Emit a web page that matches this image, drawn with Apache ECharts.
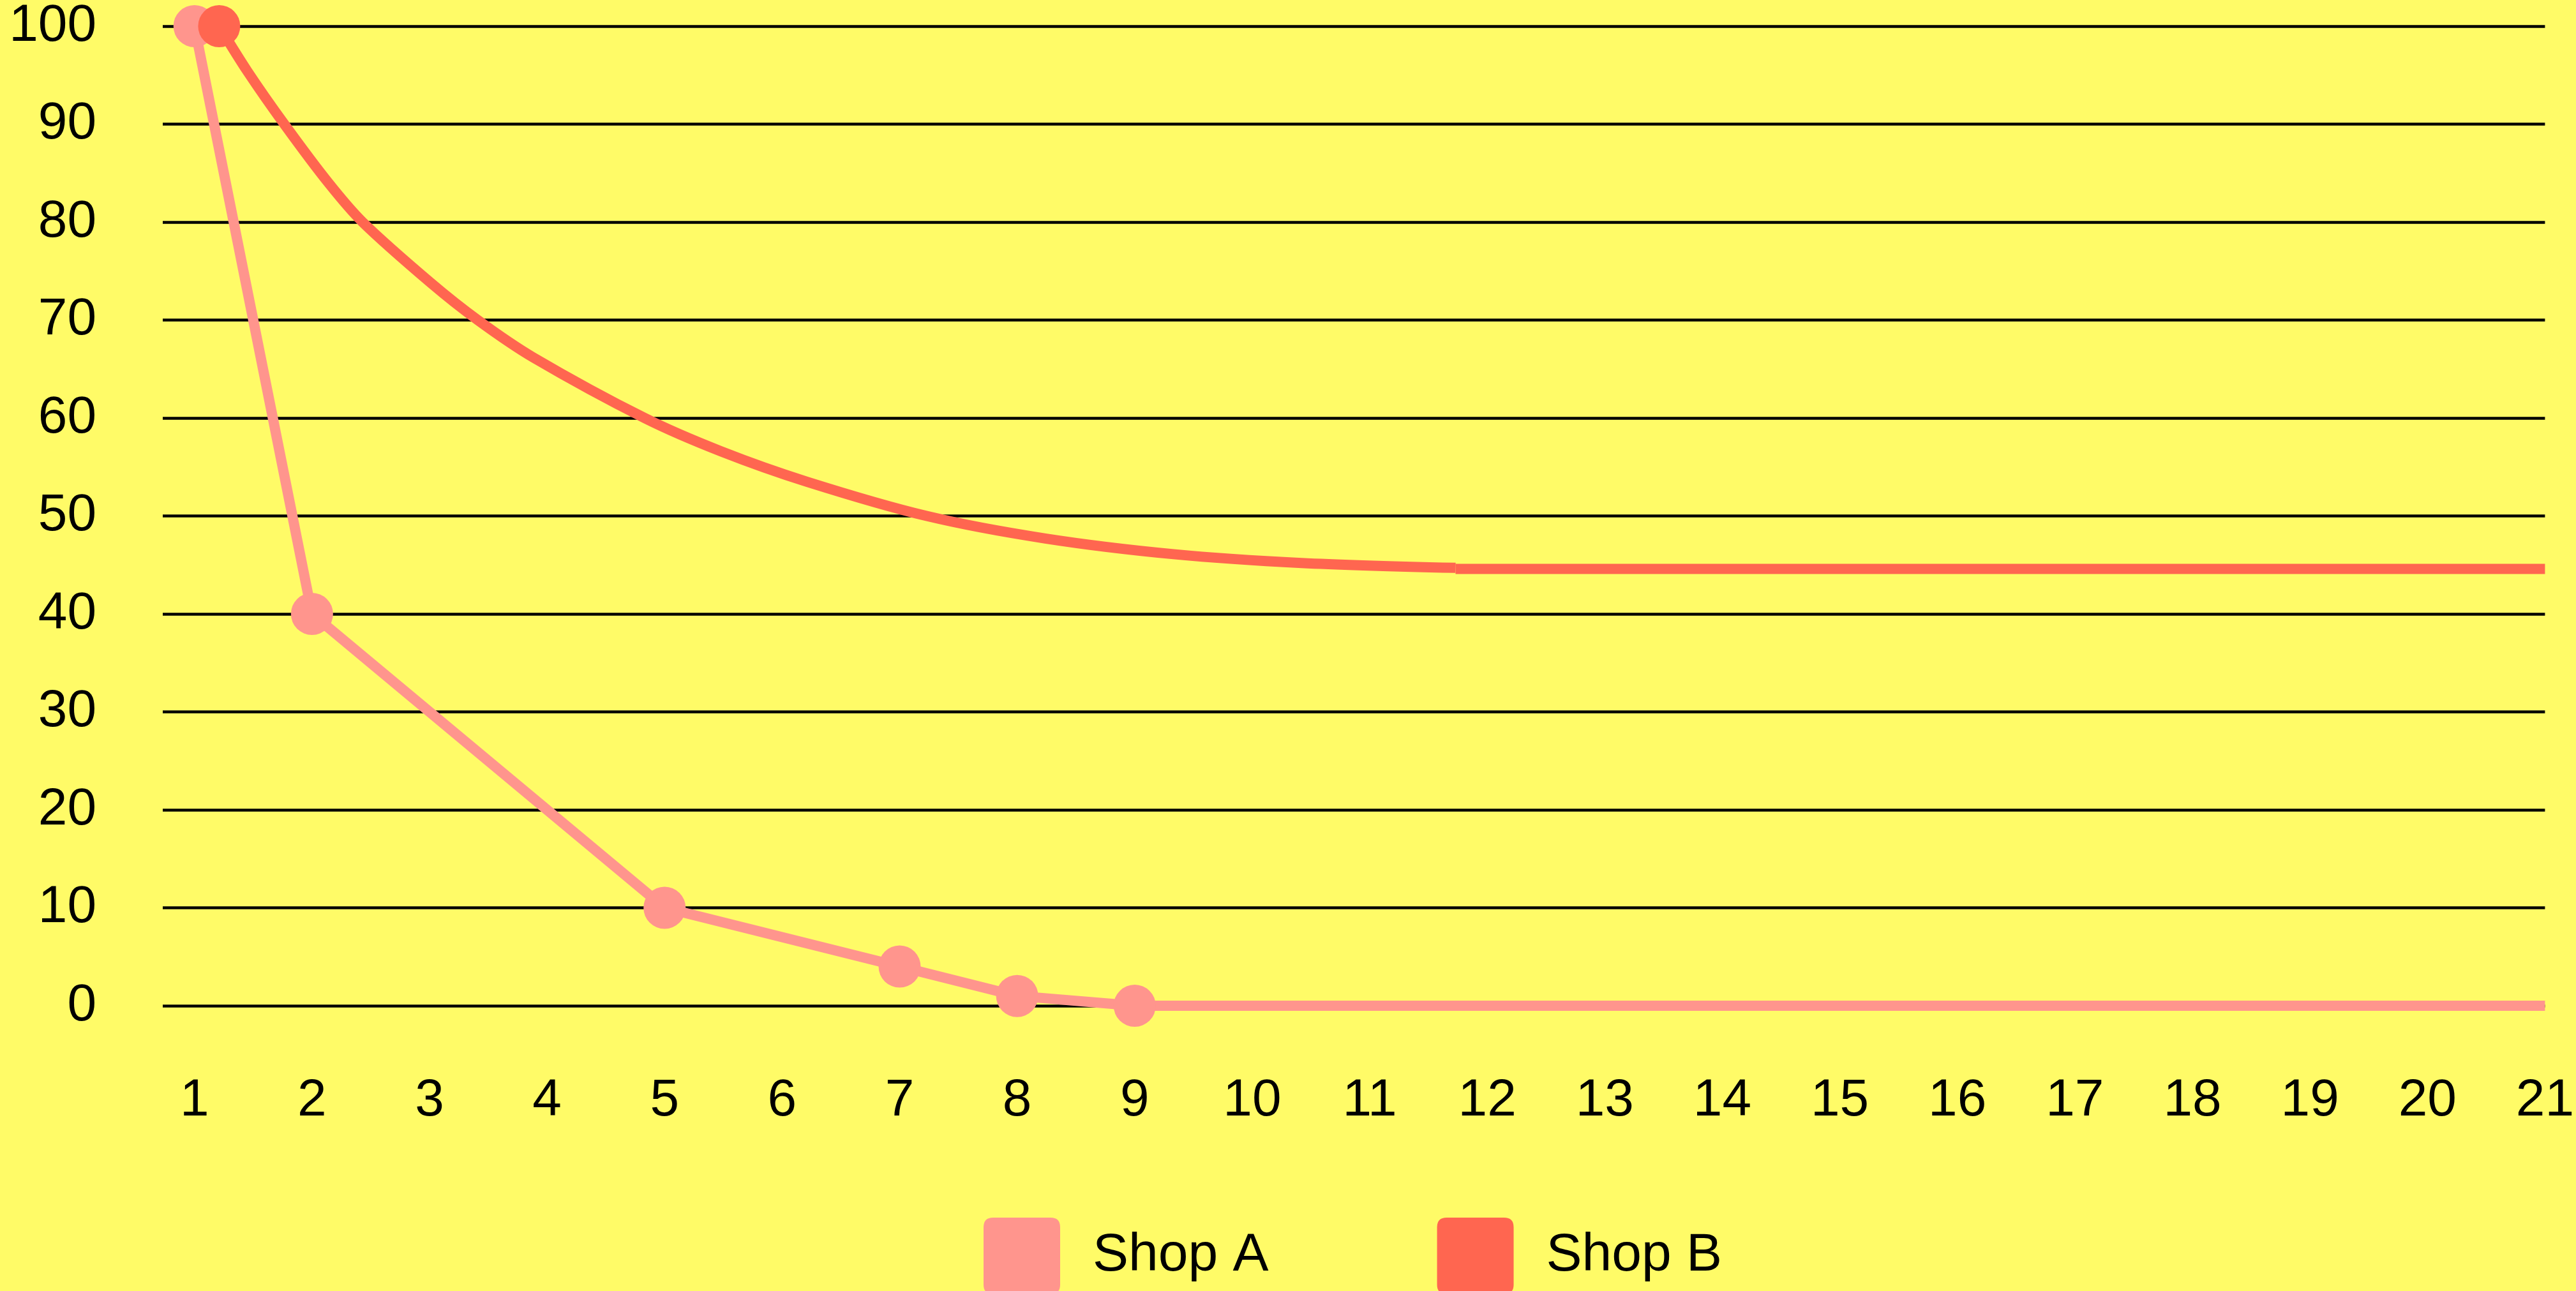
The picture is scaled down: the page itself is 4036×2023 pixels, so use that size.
<!DOCTYPE html>
<html>
<head>
<meta charset="utf-8">
<script src="https://cdn.jsdelivr.net/npm/echarts@6/dist/echarts.min.js"></script>
<style>
    html, body { margin:0; padding:0; background:#fffb67; }
    #main { width:4036px; height:2023px; }
</style>
</head>
<body>
<div id="main"></div>
<script>

// ==============================
// Data
// ==============================

const xTicks = [1,2,3,4,5,6,7,8,9,10,11,12,13,14,15,16,17,18,19,20,21];

const yTicks = [0,10,20,30,40,50,60,70,80,90,100];

// Shop A: [x, value]
const shopA = [
    [1,100],[2,40],[5,10],[7,4],[8,1],[9,0],[21,0]
];

// Shop B curve part (only first point has a marker)
const shopBCurve = [
    [1.21,100],[1.45,95.4],[1.77,89.9],[2.14,84],[2.43,80],
    [3.01,73.8],[3.41,70],[3.88,66.2],[4.83,60],[5.48,56.6],
    [6.21,53.5],[7.23,50],[8.24,47.7],[9.33,46.1],[10.42,45.2],
    [11.73,44.7]
];

// Shop B flat tail
const shopBFlat = [
    [11.73,44.6],[21,44.6]
];


// ==============================
// ECharts
// ==============================

var myChart = echarts.init(
    document.getElementById('main')
);

const FONT = "'Liberation Sans', Arial, sans-serif";

const ICON =
    'path://M15,0H105Q120,0,120,15V105Q120,120,105,120H15Q0,120,0,105V15Q0,0,15,0Z';

myChart.setOption({

    backgroundColor:'#fffb67',

    animation:false,

    grid:{
        left:255,
        right:47,
        top:37,
        bottom:447
    },

    legend:{
        left:1536,
        top:1903,
        itemWidth:120,
        itemHeight:120,
        itemGap:264,
        icon:ICON,
        data:['Shop A','Shop B'],
        textStyle:{
            fontFamily:FONT,
            fontSize:84,
            color:'#000',
            padding:[0,0,0,46]
        }
    },

    xAxis:{
        type:'value',
        min:0.73,
        max:21,
        axisLine:{ show:false },
        axisTick:{ show:false },
        splitLine:{ show:false },
        axisLabel:{
            customValues:xTicks,
            fontFamily:FONT,
            fontSize:82,
            color:'#000',
            margin:108
        }
    },

    yAxis:{
        type:'value',
        min:yTicks[0],
        max:yTicks[yTicks.length - 1],
        interval:10,
        axisLine:{ show:false },
        axisTick:{ show:false },
        splitLine:{
            lineStyle:{ color:'#000', width:4.5 }
        },
        axisLabel:{
            fontFamily:FONT,
            fontSize:82,
            color:'#000',
            margin:104
        }
    },

    series:[

        {
            name:'Shop A',
            type:'line',
            clip:false,
            color:'#ff958d',
            symbol:'circle',
            symbolSize:66,
            lineStyle:{ width:16, color:'#ff958d' },
            itemStyle:{ color:'#ff958d' },
            data:shopA.map((p, i) =>
                i === shopA.length - 1
                    ? { value:p, symbol:'none' }
                    : { value:p }
            )
        },

        {
            name:'Shop B',
            type:'line',
            clip:false,
            color:'#ff6650',
            smooth:0.3,
            symbol:'circle',
            symbolSize:66,
            lineStyle:{ width:16, color:'#ff6650', join:'round' },
            itemStyle:{ color:'#ff6650' },
            data:shopBCurve.map((p, i) =>
                i === 0
                    ? { value:p }
                    : { value:p, symbol:'none' }
            )
        },

        {
            name:'Shop B',
            type:'line',
            clip:false,
            color:'#ff6650',
            symbol:'none',
            lineStyle:{ width:16, color:'#ff6650' },
            data:shopBFlat
        }

    ]

});

</script>
</body>
</html>
